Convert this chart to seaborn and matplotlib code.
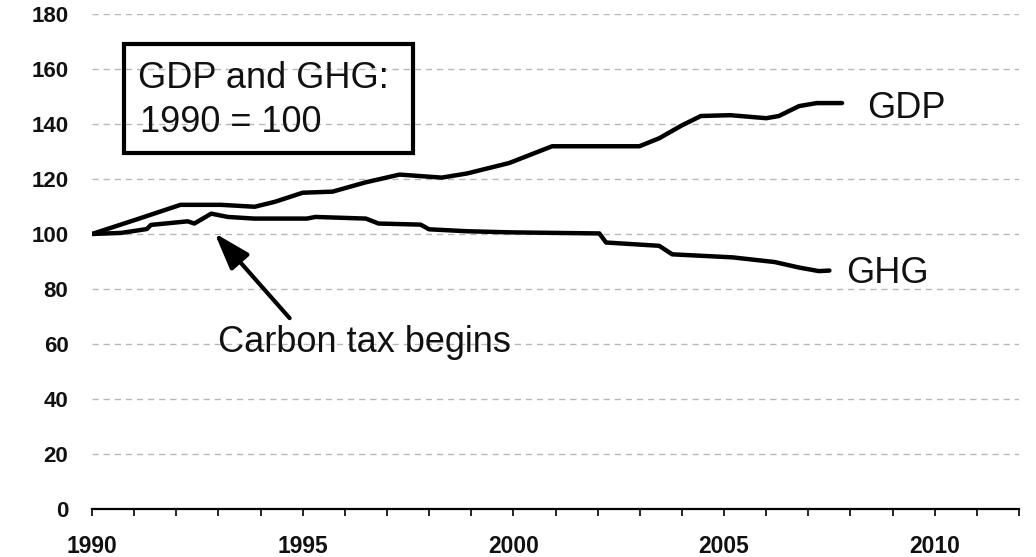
import matplotlib
matplotlib.use("Agg")
import matplotlib.pyplot as plt
from matplotlib.patches import Rectangle
import seaborn as sns
import pandas as pd

# index values (1990 = 100)
gdp_year = [1990.0, 1991.1, 1992.1, 1993.06, 1993.86, 1994.34, 1995.0, 1995.71,
            1996.5, 1997.3, 1998.3, 1998.9, 1999.9, 2000.92, 2001.87, 2002.99,
            2003.46, 2004.0, 2004.45, 2005.15, 2006.0, 2006.3, 2006.78, 2007.2, 2007.8]
gdp_index = [100.0, 105.5, 110.6, 110.6, 109.9, 111.7, 115.0, 115.4,
             118.8, 121.6, 120.5, 122.0, 125.8, 131.9, 131.9, 131.9,
             134.8, 139.5, 142.9, 143.2, 142.1, 142.9, 146.5, 147.6, 147.6]

ghg_year = [1990.0, 1990.7, 1991.3, 1991.4, 1992.27, 1992.43, 1992.83, 1993.22,
            1993.85, 1995.1, 1995.3, 1996.5, 1996.8, 1997.8, 1998.0, 1998.9,
            1999.9, 2002.04, 2002.2, 2003.46, 2003.77, 2005.2, 2006.2, 2006.78,
            2007.25, 2007.5]
ghg_index = [100.0, 100.4, 101.8, 103.3, 104.6, 103.8, 107.4, 106.2,
             105.6, 105.6, 106.2, 105.6, 103.8, 103.4, 101.7, 101.0,
             100.6, 100.2, 96.9, 95.7, 92.6, 91.5, 89.8, 87.8,
             86.5, 86.7]

x_ticks = list(range(1990, 2013))
x_labels = [str(y) if y % 5 == 0 else "" for y in x_ticks]
y_ticks = list(range(0, 181, 20))

gdp = pd.DataFrame({"year": gdp_year, "index": gdp_index})
ghg = pd.DataFrame({"year": ghg_year, "index": ghg_index})

sns.set_style("white")
plt.rcParams["font.family"] = ["Liberation Sans", "DejaVu Sans"]

fig = plt.figure(figsize=(10.36, 5.57), dpi=100)
ax = fig.add_axes([0.0888, 0.0862, 0.8948, 0.8887])

for yv in y_ticks[1:]:
    ax.axhline(yv, color="#b8b8b8", lw=1.0, ls=(0, (4.5, 3.5)), zorder=0)

for df in (gdp, ghg):
    sns.lineplot(data=df, x="year", y="index", color="black", lw=3.2, ax=ax,
                 sort=False, solid_joinstyle="round", solid_capstyle="round")

ax.set_xlim(1990, 2012)
ax.set_ylim(0, 180)
ax.set_xticks(x_ticks)
ax.set_xticklabels(x_labels)
ax.set_yticks(y_ticks)
ax.set_xlabel("")
ax.set_ylabel("")

for s in ["top", "right", "left"]:
    ax.spines[s].set_visible(False)
ax.spines["bottom"].set_color("black")
ax.spines["bottom"].set_linewidth(1.6)
ax.tick_params(axis="x", bottom=True, direction="out", length=5, width=1.2,
               color="black", pad=13.5, labelsize=16.5)
ax.tick_params(axis="y", left=False, length=0, pad=17, labelsize=16)
for lbl in ax.get_xticklabels() + ax.get_yticklabels():
    lbl.set_fontweight("bold")
    lbl.set_color("#111111")

# annotations
ax.add_patch(Rectangle((1990.76, 129.3), 6.85, 39.9, fill=False,
                       edgecolor="black", lw=3, zorder=3))
ax.text(1991.09, 153.0, "GDP and GHG:", fontsize=26, va="baseline", ha="left", color="#111111")
ax.text(1991.14, 137.1, "1990 = 100", fontsize=26, va="baseline", ha="left", color="#111111")

ax.text(2008.39, 142.1, "GDP", fontsize=26, va="baseline", ha="left", color="#111111")
ax.text(2007.89, 82.1, "GHG", fontsize=26, va="baseline", ha="left", color="#111111")

ax.annotate("", xy=(1992.91, 100.3), xytext=(1994.69, 69.4),
            arrowprops=dict(arrowstyle="-|>,head_length=0.9,head_width=0.3",
                            lw=3, color="black", mutation_scale=25,
                            shrinkA=0, shrinkB=0))
ax.text(1992.99, 57.2, "Carbon tax begins", fontsize=26, va="baseline", ha="left", color="#111111")

fig.savefig("out.png", dpi=100)
plt.close(fig)
